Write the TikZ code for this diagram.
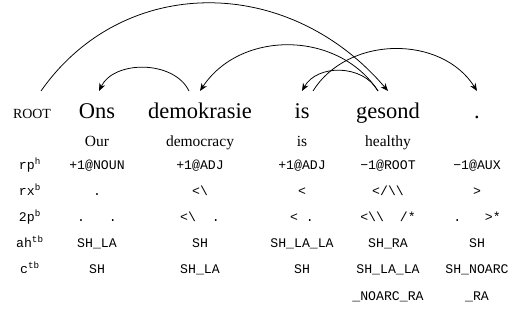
\documentclass[tikz,border=0pt]{standalone}
\usepackage{fontspec}
\setmainfont{Liberation Serif}
\setmonofont{Liberation Mono}
\usetikzlibrary{arrows.meta,calc}
\newcommand{\bsl}{\textbackslash}
\tikzset{
  word/.style={anchor=base, inner sep=1pt, font=\fontsize{14.5}{16}\selectfont},
  gloss/.style={anchor=base, inner sep=1pt, font=\fontsize{10}{12}\selectfont},
  feat/.style={anchor=base, inner sep=1pt, font=\fontsize{8.5}{10}\ttfamily},
  dep/.style={-{Stealth[length=5pt,width=4pt]}, line width=0.5pt}
}
\begin{document}
\begin{tikzpicture}[x=0.645pt, y=-0.645pt]
    \useasboundingbox (0,0) rectangle (514,332);

    % sentence and glosses
    \node[word, font=\fontsize{9}{10}\selectfont] (w0) at (32,118) {ROOT};
    \foreach \x/\w [count=\i] in {97/Ons, 200/demokrasie, 302/is, 388/gesond, 477/.}
        \node[word] (w\i) at (\x,118) {\w};
    \foreach \x/\g [count=\i] in {97/Our, 200/democracy, 302/is, 388/healthy}
        \node[gloss] (g\i) at (\x,146) {\g};

    % feature rows
    \foreach \y/\lab/\a/\b/\c/\d/\e [count=\r] in {
        169/{rp\textsuperscript{h}}/{+1@NOUN}/{+1@ADJ}/{+1@ADJ}/{−1@ROOT}/{−1@AUX},
        195/{rx\textsuperscript{b}}/{.}/{<\bsl}/{<}/{</\bsl\bsl}/{>},
        221/{2p\textsuperscript{b}}/{.\ \ \ .}/{<\bsl\ \ .}/{<\ .}/{<\bsl\bsl\ \ /*}/{.\ \ \ >*},
        247/{ah\textsuperscript{tb}}/{SH\_LA}/{SH}/{SH\_LA\_LA}/{SH\_RA}/{SH},
        273/{c\textsuperscript{tb}}/{SH}/{SH\_LA}/{SH}/{SH\_LA\_LA}/{SH\_NOARC}} {
        \node[feat] (l\r) at (30,\y) {\lab};
        \node[feat] (f\r-1) at (97,\y) {\a};
        \node[feat] (f\r-2) at (200,\y) {\b};
        \node[feat] (f\r-3) at (302,\y) {\c};
        \node[feat] (f\r-4) at (388,\y) {\d};
        \node[feat] (f\r-5) at (477,\y) {\e};
    }
    \node[feat] (f6-4) at (388,300) {\_NOARC\_RA};
    \node[feat] (f6-5) at (477,300) {\_RA};

    % dependency arcs
    \coordinate (top) at (0,91);
    \draw[dep] ($(w0 |- top)+(9,0)$) .. controls +(82,-117) and +(-100,-117) .. (w4 |- top);
    \draw[dep] ($(w2 |- top)+(-11,0)$) .. controls +(-15,-31) and +(15,-31) .. ($(w1 |- top)+(2,0)$);
    \draw[dep] ($(w4 |- top)+(-10,0)$) .. controls +(-40,-61) and +(40,-61) .. (w2 |- top);
    \draw[dep] ($(w4 |- top)+(-10,0)$) .. controls +(-15,-27) and +(15,-27) .. (w3 |- top);
    \draw[dep] ($(w3 |- top)+(11,0)$) .. controls +(35,-56) and +(-35,-56) .. (w5 |- top);
\end{tikzpicture}
\end{document}
